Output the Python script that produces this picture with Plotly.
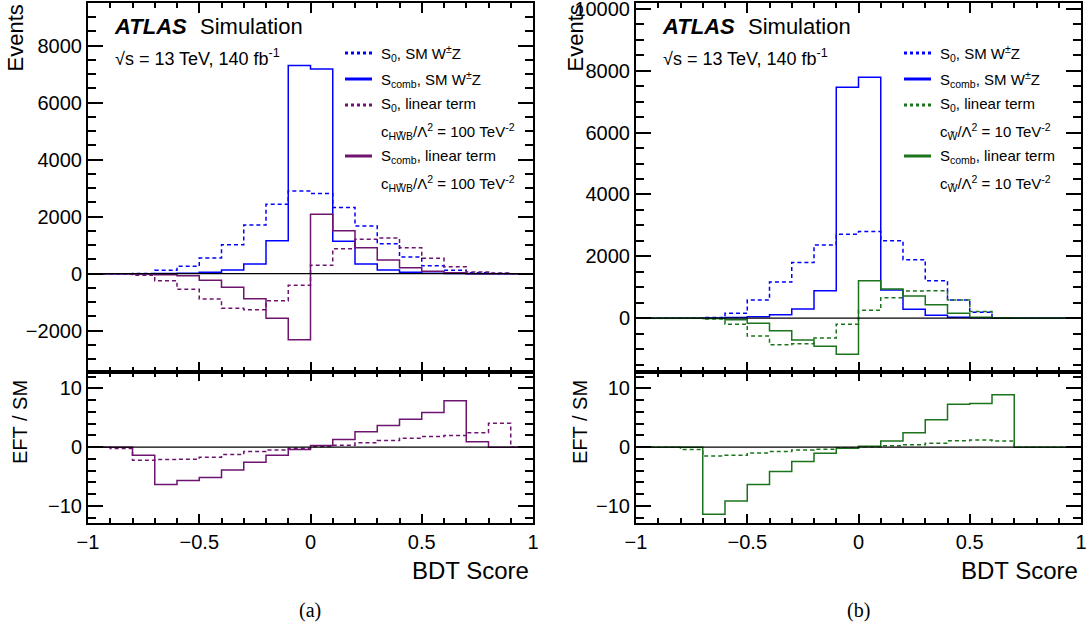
import plotly.graph_objects as go

# ---------------- data ----------------
bin_edges = [-1.0, -0.9, -0.8, -0.7, -0.6, -0.5, -0.4, -0.3, -0.2, -0.1, 0.0,
             0.1, 0.2, 0.3, 0.4, 0.5, 0.6, 0.7, 0.8, 0.9, 1.0]

# (a) c_HWB
a_s0_sm = [0, 0, 10, 117, 257, 550, 1017, 1707, 2433, 2900, 2818, 2327, 1672, 1053, 585, 281, 117, 35, 10, 0]
a_scomb_sm = [0, 0, 0, 5, 15, 47, 129, 339, 1158, 7310, 7181, 1135, 339, 129, 47, 20, 5, 0, 0, 0]
a_s0_lin = [0, 0, -58, -246, -550, -889, -1216, -1263, -947, -409, 292, 877, 1205, 1251, 912, 538, 246, 58, 23, 0]
a_scomb_lin = [0, 0, -10, -35, -70, -234, -480, -877, -1567, -2316, 2082, 1509, 912, 480, 211, 82, 35, 0, 0, 0]
a_ratio_s0 = [0, -0.23, -2.23, -2.11, -2.06, -1.71, -1.26, -0.74, -0.46, -0.17, 0.11, 0.34, 0.74, 1.14, 1.54, 1.83, 2.0, 2.46, 4.06, 0]
a_ratio_scomb = [0, 0, -1.37, -6.34, -5.66, -5.14, -3.89, -2.57, -1.37, -0.40, 0.29, 1.31, 2.63, 3.71, 4.74, 5.89, 7.89, 0.91, 0, 0]

# (b) c_W
b_s0_sm = [0, 0, 0, 20, 160, 588, 1166, 1797, 2364, 2717, 2802, 2503, 1893, 1209, 588, 193, 0, 0, 0, 0]
b_scomb_sm = [0, 0, 0, 5, 20, 43, 107, 300, 888, 7465, 7786, 909, 289, 96, 32, 10, 0, 0, 0, 0]
b_s0_lin = [0, 0, 0, -30, -193, -578, -856, -824, -642, -193, 257, 663, 877, 888, 588, 214, 0, 0, 0, 0]
b_scomb_lin = [0, 0, 0, -10, -53, -160, -406, -706, -909, -1166, 1209, 941, 717, 438, 160, 32, 10, 0, 0, 0]
b_ratio_s0 = [0, 0, -0.4, -1.5, -1.38, -0.98, -0.75, -0.46, -0.35, -0.12, 0.06, 0.23, 0.40, 0.69, 1.10, 1.21, 1.04, 0, 0, 0]
b_ratio_scomb = [0, 0, 0, -11.4, -9.16, -6.34, -4.15, -2.42, -1.04, -0.17, 0.17, 1.04, 2.48, 4.67, 7.32, 7.44, 8.93, 0, 0, 0]

x_tickvals = [-1, -0.5, 0, 0.5, 1]
x_ticktext = ["\u22121", "\u22120.5", "0", "0.5", "1"]
a_y_tickvals = [-2000, 0, 2000, 4000, 6000, 8000]
a_y_ticktext = ["\u22122000", "0", "2000", "4000", "6000", "8000"]
b_y_tickvals = [0, 2000, 4000, 6000, 8000, 10000]
b_y_ticktext = ["0", "2000", "4000", "6000", "8000", "10000"]
r_tickvals = [-10, 0, 10]
r_ticktext = ["\u221210", "0", "10"]

BLUE = "#0000ff"
PURPLE = "#6e1470"
GREEN = "#1b741b"
W, H = 1089, 630
FONT = "Liberation Sans"


def px(x):
    return x / W


def py(y):
    return 1 - y / H


def step(vals):
    return bin_edges, list(vals) + [vals[-1]]


fig = go.Figure()


def add_hist(vals, color, dotted, xa, ya):
    xs, ys = step(vals)
    fig.add_trace(go.Scatter(
        x=xs, y=ys, mode="lines", line_shape="hv",
        line=dict(color=color, width=1.5, dash="4px,3px" if dotted else "solid"),
        xaxis=xa, yaxis=ya, showlegend=False, hoverinfo="skip"))


# panel (a)
add_hist(a_s0_sm, BLUE, True, "x", "y")
add_hist(a_scomb_sm, BLUE, False, "x", "y")
add_hist(a_s0_lin, PURPLE, True, "x", "y")
add_hist(a_scomb_lin, PURPLE, False, "x", "y")
add_hist(a_ratio_s0, PURPLE, True, "x2", "y2")
add_hist(a_ratio_scomb, PURPLE, False, "x2", "y2")
# panel (b)
add_hist(b_s0_sm, BLUE, True, "x3", "y3")
add_hist(b_scomb_sm, BLUE, False, "x3", "y3")
add_hist(b_s0_lin, GREEN, True, "x3", "y3")
add_hist(b_scomb_lin, GREEN, False, "x3", "y3")
add_hist(b_ratio_s0, GREEN, True, "x4", "y4")
add_hist(b_ratio_scomb, GREEN, False, "x4", "y4")

tickfont = dict(family=FONT, size=20, color="black")

left_dom = [px(88), px(533)]
right_dom = [px(636), px(1081)]
top_dom = [py(372), py(3)]
bot_dom = [py(523), py(372)]


def xaxis(dom, anchor, labels, ml, mnl):
    return dict(domain=dom, anchor=anchor, range=[-1, 1], tickmode="array",
                tickvals=x_tickvals, ticktext=x_ticktext, showticklabels=labels,
                ticks="inside", ticklen=ml, tickwidth=1.5, tickcolor="black",
                minor=dict(tickmode="linear", tick0=0, dtick=0.1, ticks="inside",
                           ticklen=mnl, tickwidth=1.5, tickcolor="black", showgrid=False),
                showline=True, linewidth=2, linecolor="black", mirror="allticks",
                showgrid=False, zeroline=False, tickfont=tickfont, automargin=False,
                ticklabeloverflow="allow")


def yaxis(dom, anchor, rng, tv, tt, mdt):
    return dict(domain=dom, anchor=anchor, range=rng, tickmode="array",
                tickvals=tv, ticktext=tt, ticks="inside", ticklen=15, tickwidth=1.5,
                tickcolor="black",
                minor=dict(tickmode="linear", tick0=0, dtick=mdt, ticks="inside",
                           ticklen=8, tickwidth=1.5, tickcolor="black", showgrid=False),
                showline=True, linewidth=2, linecolor="black", mirror="allticks",
                showgrid=False, zeroline=False, tickfont=tickfont, automargin=False,
                ticklabeloverflow="allow")


fig.update_layout(
    width=W, height=H, margin=dict(l=0, r=0, t=0, b=0, autoexpand=False),
    paper_bgcolor="white", plot_bgcolor="white", showlegend=False,
    xaxis=xaxis(left_dom, "y", False, 10, 5),
    yaxis=yaxis(top_dom, "x", [-3450, 9500], a_y_tickvals, a_y_ticktext, 500),
    xaxis2=xaxis(left_dom, "y2", True, 9, 5),
    yaxis2=yaxis(bot_dom, "x2", [-12.9, 12.8], r_tickvals, r_ticktext, 2),
    xaxis3=xaxis(right_dom, "y3", False, 10, 5),
    yaxis3=yaxis(top_dom, "x3", [-1740, 10190], b_y_tickvals, b_y_ticktext, 500),
    xaxis4=xaxis(right_dom, "y4", True, 9, 5),
    yaxis4=yaxis(bot_dom, "x4", [-12.9, 12.8], r_tickvals, r_ticktext, 2),
)

# zero lines
for xr, yr in [("x", "y"), ("x2", "y2"), ("x3", "y3"), ("x4", "y4")]:
    fig.add_shape(type="line", x0=-1, x1=1, y0=0, y1=0, xref=xr, yref=yr,
                  line=dict(color="black", width=1.3), layer="above")

ann = []


def text(x, y, s, size, xanchor="left", yanchor="middle", angle=0, family=FONT):
    ann.append(dict(x=px(x), y=py(y), xref="paper", yref="paper", text=s,
                    showarrow=False, xanchor=xanchor, yanchor=yanchor,
                    textangle=angle, font=dict(family=family, size=size, color="black")))


legend_a = [
    ("S<sub>0</sub>, SM W<sup>\u00b1</sup>Z", BLUE, True),
    ("S<sub>comb</sub>, SM W<sup>\u00b1</sup>Z", BLUE, False),
    ("S<sub>0</sub>, linear term", PURPLE, True),
    ("c<sub>HW\u0303B</sub>/\u039b<sup>2</sup> = 100 TeV<sup>-2</sup>", None, None),
    ("S<sub>comb</sub>, linear term", PURPLE, False),
    ("c<sub>HW\u0303B</sub>/\u039b<sup>2</sup> = 100 TeV<sup>-2</sup>", None, None),
]
legend_b = [
    ("S<sub>0</sub>, SM W<sup>\u00b1</sup>Z", BLUE, True),
    ("S<sub>comb</sub>, SM W<sup>\u00b1</sup>Z", BLUE, False),
    ("S<sub>0</sub>, linear term", GREEN, True),
    ("c<sub>W\u0303</sub>/\u039b<sup>2</sup> = 10 TeV<sup>-2</sup>", None, None),
    ("S<sub>comb</sub>, linear term", GREEN, False),
    ("c<sub>W\u0303</sub>/\u039b<sup>2</sup> = 10 TeV<sup>-2</sup>", None, None),
]
rows_y = [53, 79, 105, 131, 156, 183]

for (leg, lx0, lx1, tx) in [(legend_a, 345, 372, 379), (legend_b, 904, 931, 938)]:
    for (s, col, dotted), yy in zip(leg, rows_y):
        if col is not None:
            fig.add_shape(type="line", xref="paper", yref="paper",
                          x0=px(lx0), x1=px(lx1), y0=py(yy), y1=py(yy),
                          line=dict(color=col, width=3, dash="3px,3px" if dotted else "solid"))
        text(tx, yy, s, 15)

for (x0, xs, xsq) in [(112, 198, 113), (660, 746, 661)]:
    text(x0, 27, "<b><i>ATLAS</i></b>", 22)
    text(xs, 27, "Simulation", 22)
    text(xsq, 57, "\u221as = 13 TeV, 140 fb<sup>-1</sup>", 18)

text(15, 3, "Events", 22, xanchor="center", yanchor="top", angle=-90)
text(575, 3, "Events", 22, xanchor="center", yanchor="top", angle=-90)
text(20, 422, "EFT / SM", 20, xanchor="center", yanchor="middle", angle=-90)
text(580, 422, "EFT / SM", 20, xanchor="center", yanchor="middle", angle=-90)
text(531, 570, "BDT Score", 24, xanchor="right")
text(1080, 570, "BDT Score", 24, xanchor="right")
text(310, 610, "(a)", 20, xanchor="center", family="Liberation Serif")
text(858, 610, "(b)", 20, xanchor="center", family="Liberation Serif")

fig.update_layout(annotations=ann)
fig.write_html("out.html")
